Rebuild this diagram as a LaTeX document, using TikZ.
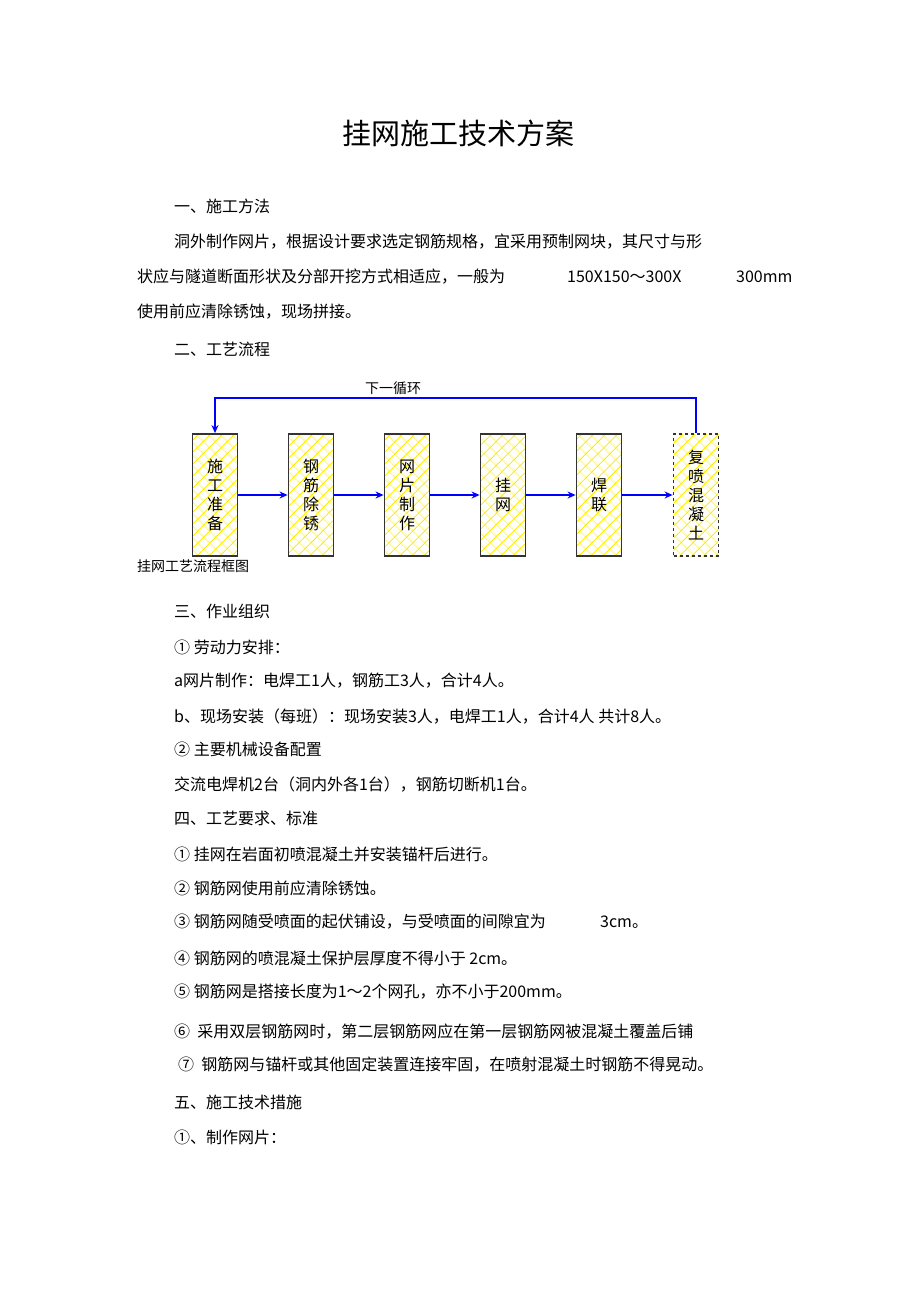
\documentclass[tikz,border=0pt]{standalone}
\usepackage{fontspec}
\setmainfont{Noto Sans CJK SC}
\usetikzlibrary{patterns.meta,arrows.meta}
\tikzdeclarepattern{name=lattice, type=uncolored,
  bounding box={(0pt,0pt) and (9pt,9pt)}, tile size={(9pt,9pt)},
  tile transformation={rotate=45},
  code={\draw[line width=1pt] (0pt,4.5pt) -- (9pt,4.5pt) (4.5pt,0pt) -- (4.5pt,9pt);}}
\begin{document}
\begin{tikzpicture}[x=1pt,y=-1pt,
  txt/.style={anchor=west,inner sep=0pt,font=\fontsize{16}{18}\selectfont},
  flowbox/.style={draw=black!80,line width=1.8pt,pattern=lattice,pattern color=yellow!85!orange,minimum width=45pt,minimum height=122pt,inner sep=0pt,font=\fontsize{16}{19}\selectfont,align=center},
  flowarr/.style={draw=blue,line width=2.2pt,-{Stealth[length=8pt,width=7pt]}}]
\useasboundingbox (0,0) rectangle (920,1303);
\node[font=\fontsize{29}{32}\selectfont,inner sep=0pt] (title) at (458,133) {挂网施工技术方案};
\node[txt] (t1) at (174,206) {一、施工方法};
\node[txt] (t2) at (174,242) {洞外制作网片，根据设计要求选定钢筋规格，宜采用预制网块，其尺寸与形};
\node[txt] (t3) at (137,277) {状应与隧道断面形状及分部开挖方式相适应，一般为};
\node[txt] (t3b) at (567,277) {150X150～300X};
\node[txt] (t3c) at (736,277) {300mm};
\node[txt] (t4) at (137,312) {使用前应清除锈蚀，现场拼接。};
\node[txt] (t5) at (174,349) {二、工艺流程};
\foreach \n/\x/\s in {a/215/施\\工\\准\\备, b/311/钢\\筋\\除\\锈, c/407/网\\片\\制\\作, d/503/挂\\网, e/599/焊\\联}
  \node[flowbox] (\n) at (\x,495) {\s};
\node[flowbox,dashed] (f) at (696,495) {复\\喷\\混\\凝\\土};
\foreach \p/\q in {a/b,b/c,c/d,d/e,e/f} \draw[flowarr] (\p) -- (\q);
\coordinate (ft) at (696,398);
\coordinate (at) at (215,398);
\draw[flowarr] (f.north) -- (ft) -- (at) -- (a.north);
\node[inner sep=0pt,font=\fontsize{14}{16}\selectfont] (loop) at (393,388) {下一循环};
\node[txt,font=\fontsize{14}{16}\selectfont] (cap) at (137,566) {挂网工艺流程框图};
\node[txt] at (174,611) {三、作业组织};
\node[txt] at (174,647) {① 劳动力安排：};
\node[txt] at (174,681) {a网片制作：电焊工1人，钢筋工3人，合计4人。};
\node[txt] at (174,716) {b、现场安装（每班）：现场安装3人，电焊工1人，合计4人 共计8人。};
\node[txt] at (174,749) {② 主要机械设备配置};
\node[txt] at (174,784) {交流电焊机2台（洞内外各1台），钢筋切断机1台。};
\node[txt] at (174,818) {四、工艺要求、标准};
\node[txt] at (174,854) {① 挂网在岩面初喷混凝土并安装锚杆后进行。};
\node[txt] at (174,888) {② 钢筋网使用前应清除锈蚀。};
\node[txt] at (174,922) {③ 钢筋网随受喷面的起伏铺设，与受喷面的间隙宜为};
\node[txt] at (600,922) {3cm。};
\node[txt] at (174,958) {④ 钢筋网的喷混凝土保护层厚度不得小于 2cm。};
\node[txt] at (174,992) {⑤ 钢筋网是搭接长度为1～2个网孔，亦不小于200mm。};
\node[txt] at (174,1032) {⑥\ \ 采用双层钢筋网时，第二层钢筋网应在第一层钢筋网被混凝土覆盖后铺};
\node[txt] at (178,1065) {⑦\ \ 钢筋网与锚杆或其他固定装置连接牢固，在喷射混凝土时钢筋不得晃动。};
\node[txt] at (174,1102) {五、施工技术措施};
\node[txt] at (174,1137) {①、制作网片：};
\end{tikzpicture}
\end{document}
